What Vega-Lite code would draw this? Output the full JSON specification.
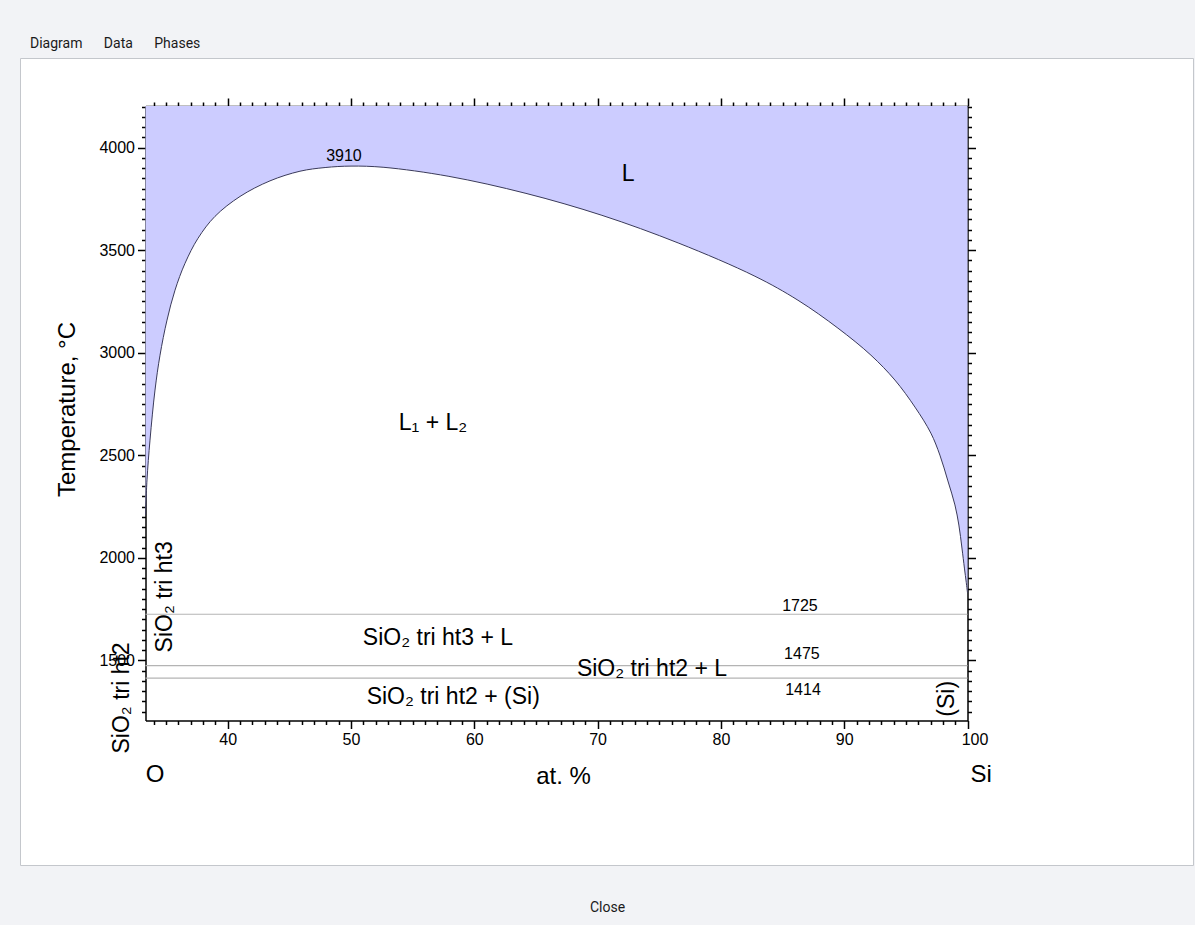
{
  "$schema": "https://vega.github.io/schema/vega-lite/v6.json",
  "autosize": "none",
  "width": 1173,
  "height": 807,
  "padding": {"left": 20, "top": 58, "right": 2, "bottom": 60},
  "background": "#f2f3f6",
  "config": {"view": {"fill": "white", "stroke": "#c4c7cc", "strokeWidth": 1}},
  "title": {"text": "Diagram\u2003\u2002Data\u2003\u2002Phases", "anchor": "start", "frame": "group", "offset": -7, "dx": 10, "font": "Roboto", "fontSize": 14, "fontWeight": "normal", "color": "#1a1a1a", "baseline": "bottom"},
  "datasets": {
    "curve": [
      {"x": 33.334, "T": 2209}, {"x": 33.455, "T": 2380}, {"x": 33.698, "T": 2574}, {"x": 34.104, "T": 2818},
      {"x": 34.509, "T": 2988}, {"x": 35.077, "T": 3159}, {"x": 35.726, "T": 3305}, {"x": 36.537, "T": 3436},
      {"x": 37.591, "T": 3558}, {"x": 38.97, "T": 3665}, {"x": 41.0, "T": 3762}, {"x": 43.43, "T": 3838},
      {"x": 45.86, "T": 3885}, {"x": 47.9, "T": 3903}, {"x": 50.0, "T": 3910},
      {"x": 52.67, "T": 3904}, {"x": 57.94, "T": 3860}, {"x": 64.19, "T": 3777}, {"x": 70.35, "T": 3670},
      {"x": 76.59, "T": 3534}, {"x": 82.76, "T": 3373}, {"x": 86.25, "T": 3256}, {"x": 89.49, "T": 3120},
      {"x": 92.17, "T": 2988}, {"x": 94.11, "T": 2867}, {"x": 95.74, "T": 2735}, {"x": 97.03, "T": 2608},
      {"x": 97.76, "T": 2501}, {"x": 98.41, "T": 2375}, {"x": 98.98, "T": 2258}, {"x": 99.30, "T": 2160},
      {"x": 99.55, "T": 2048}, {"x": 99.75, "T": 1950}, {"x": 99.9, "T": 1880}, {"x": 100.0, "T": 1830}
    ],
    "iso": [{"T": 1725}, {"T": 1475}, {"T": 1414}],
    "nums": [
      {"x": 49.43, "T": 3957, "label": "3910"},
      {"x": 86.41, "T": 1763, "label": "1725"},
      {"x": 86.57, "T": 1532, "label": "1475"},
      {"x": 86.66, "T": 1357, "label": "1414"}
    ],
    "phases": [
      {"x": 72.47, "T": 3870, "label": "L"},
      {"x": 56.65, "T": 2657, "label": "L\u2081 + L\u2082"},
      {"x": 57.05, "T": 1610, "label": "SiO\u2082 tri ht3 + L"},
      {"x": 74.41, "T": 1459, "label": "SiO\u2082 tri ht2 + L"},
      {"x": 58.29, "T": 1322, "label": "SiO\u2082 tri ht2 + (Si)"}
    ],
    "vert": [
      {"x": 34.91, "T": 1810, "label": "SiO\u2082 tri ht3"},
      {"x": 31.43, "T": 1317, "label": "SiO\u2082 tri ht2"},
      {"x": 98.34, "T": 1313, "label": "(Si)"}
    ],
    "comp": [
      {"x": 34.11, "T": 939, "label": "O"},
      {"x": 101.1, "T": 939, "label": "Si"}
    ]
  },
  "resolve": {"axis": {"x": "independent", "y": "independent"}},
  "layer": [
    {
      "data": {"name": "curve"},
      "mark": {"type": "area", "color": "#ccccff", "opacity": 1, "interpolate": "catmull-rom"},
      "encoding": {
        "x": {
          "field": "x", "type": "quantitative",
          "scale": {"domain": [33.333, 100], "range": [125.5, 947.5], "nice": false, "zero": false},
          "axis": {
            "orient": "bottom", "offset": -144.5, "grid": false,
            "values": [34,35,36,37,38,39,40,41,42,43,44,45,46,47,48,49,50,51,52,53,54,55,56,57,58,59,60,61,62,63,64,65,66,67,68,69,70,71,72,73,74,75,76,77,78,79,80,81,82,83,84,85,86,87,88,89,90,91,92,93,94,95,96,97,98,99,100],
            "format": "d",
            "labelExpr": "datum.value % 10 === 0 ? datum.label : ''",
            "labelOverlap": false, "labelFlush": false, "labelBound": false,
            "labelFont": "Liberation Sans", "labelFontSize": 16, "labelColor": "#000", "labelPadding": 3,
            "labelOffset": {"condition": {"test": "datum.value === 100", "value": 7}, "value": 0},
            "tickSize": {"condition": {"test": "datum.value % 10 === 0", "value": 8}, "value": 4},
            "tickColor": "#000", "tickWidth": 1.5,
            "domainColor": "#000", "domainWidth": 1.5,
            "title": "at. %", "titleFont": "Liberation Sans", "titleFontSize": 24, "titleFontWeight": "normal", "titleColor": "#000",
            "titleX": 543, "titleY": 55.5, "titleAlign": "center", "titleBaseline": "middle"
          }
        },
        "y": {
          "field": "T", "type": "quantitative",
          "scale": {"domain": [1207, 4203], "range": [662.5, 48], "nice": false, "zero": false},
          "axis": {
            "orient": "left", "offset": -125.5, "grid": false,
            "values": [1250,1300,1350,1400,1450,1500,1550,1600,1650,1700,1750,1800,1850,1900,1950,2000,2050,2100,2150,2200,2250,2300,2350,2400,2450,2500,2550,2600,2650,2700,2750,2800,2850,2900,2950,3000,3050,3100,3150,3200,3250,3300,3350,3400,3450,3500,3550,3600,3650,3700,3750,3800,3850,3900,3950,4000,4050,4100,4150,4200],
            "format": "d",
            "labelExpr": "datum.value % 500 === 0 ? datum.label : ''",
            "labelOverlap": false, "labelFlush": false, "labelBound": false,
            "labelFont": "Liberation Sans", "labelFontSize": 16, "labelColor": "#000", "labelPadding": 3,
            "tickSize": {"condition": {"test": "datum.value % 500 === 0", "value": 8}, "value": 4},
            "tickColor": "#000", "tickWidth": 1.5,
            "domainColor": "#000", "domainWidth": 1.5,
            "title": "Temperature, °C", "titleFont": "Liberation Sans", "titleFontSize": 24, "titleFontWeight": "normal", "titleColor": "#000",
            "titleX": -78.5, "titleY": 351, "titleAngle": 270, "titleAlign": "center", "titleBaseline": "middle"
          }
        },
        "y2": {"datum": 4203}
      }
    },
    {
      "data": {"name": "iso"},
      "mark": {"type": "rule", "color": "#b4b4b4", "strokeWidth": 1.2},
      "encoding": {
        "x": {"datum": 33.333, "type": "quantitative", "axis": null},
        "x2": {"datum": 100},
        "y": {"field": "T", "type": "quantitative", "axis": null}
      }
    },
    {
      "data": {"name": "curve"},
      "mark": {"type": "line", "color": "#3a3a5a", "strokeWidth": 1, "interpolate": "catmull-rom"},
      "encoding": {
        "x": {
          "field": "x", "type": "quantitative",
          "scale": {"domain": [33.333, 100], "range": [125.5, 947.5], "nice": false, "zero": false},
          "axis": {
            "orient": "top", "offset": -48, "grid": false, "labels": false,
            "values": [34,35,36,37,38,39,40,41,42,43,44,45,46,47,48,49,50,51,52,53,54,55,56,57,58,59,60,61,62,63,64,65,66,67,68,69,70,71,72,73,74,75,76,77,78,79,80,81,82,83,84,85,86,87,88,89,90,91,92,93,94,95,96,97,98,99,100],
            "tickSize": {"condition": {"test": "datum.value % 10 === 0", "value": 8}, "value": 4},
            "tickColor": "#000", "tickWidth": 1.5,
            "domainColor": "#000", "domainWidth": 1.5,
            "title": "Close", "titleFont": "Roboto", "titleFontSize": 14, "titleFontWeight": "normal", "titleColor": "#1a1a1a",
            "titleX": 587, "titleY": 801, "titleAlign": "center", "titleBaseline": "middle"
          }
        },
        "y": {
          "field": "T", "type": "quantitative",
          "scale": {"domain": [1207, 4203], "range": [662.5, 48], "nice": false, "zero": false},
          "axis": {
            "orient": "right", "offset": -225.5, "grid": false, "labels": false,
            "values": [1250,1300,1350,1400,1450,1500,1550,1600,1650,1700,1750,1800,1850,1900,1950,2000,2050,2100,2150,2200,2250,2300,2350,2400,2450,2500,2550,2600,2650,2700,2750,2800,2850,2900,2950,3000,3050,3100,3150,3200,3250,3300,3350,3400,3450,3500,3550,3600,3650,3700,3750,3800,3850,3900,3950,4000,4050,4100,4150,4200],
            "tickSize": {"condition": {"test": "datum.value % 500 === 0", "value": 8}, "value": 4},
            "tickColor": "#000", "tickWidth": 1.5,
            "domainColor": "#000", "domainWidth": 1.5,
            "title": null
          }
        }
      }
    },
    {
      "data": {"name": "nums"},
      "mark": {"type": "text", "font": "Liberation Sans", "fontSize": 16, "color": "#000", "align": "center", "baseline": "middle"},
      "encoding": {
        "x": {"field": "x", "type": "quantitative", "axis": null},
        "y": {"field": "T", "type": "quantitative", "axis": null},
        "text": {"field": "label", "type": "nominal"}
      }
    },
    {
      "data": {"name": "phases"},
      "mark": {"type": "text", "font": "Liberation Sans", "fontSize": 23, "color": "#000", "align": "center", "baseline": "middle"},
      "encoding": {
        "x": {"field": "x", "type": "quantitative", "axis": null},
        "y": {"field": "T", "type": "quantitative", "axis": null},
        "text": {"field": "label", "type": "nominal"}
      }
    },
    {
      "data": {"name": "vert"},
      "mark": {"type": "text", "font": "Liberation Sans", "fontSize": 23, "color": "#000", "align": "center", "baseline": "middle", "angle": 270},
      "encoding": {
        "x": {"field": "x", "type": "quantitative", "axis": null},
        "y": {"field": "T", "type": "quantitative", "axis": null},
        "text": {"field": "label", "type": "nominal"}
      }
    },
    {
      "data": {"name": "comp"},
      "mark": {"type": "text", "font": "Liberation Sans", "fontSize": 24, "color": "#000", "align": "center", "baseline": "middle"},
      "encoding": {
        "x": {"field": "x", "type": "quantitative", "axis": null},
        "y": {"field": "T", "type": "quantitative", "axis": null},
        "text": {"field": "label", "type": "nominal"}
      }
    }
  ]
}
